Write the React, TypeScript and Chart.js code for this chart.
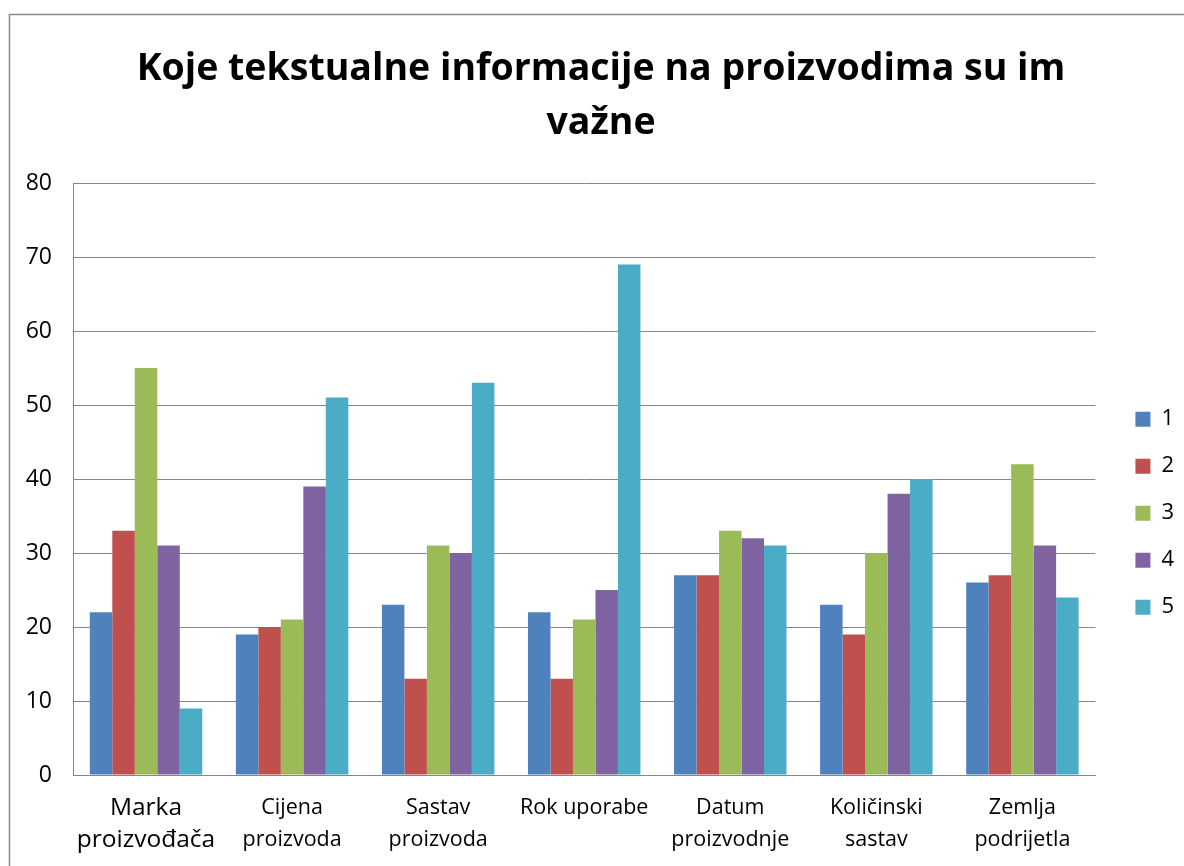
import React, { useEffect, useRef } from "react";
import { Chart, registerables } from "chart.js";

Chart.register(...registerables);

const categories: string[][] = [
  ["Marka", "proizvođača"],
  ["Cijena", "proizvoda"],
  ["Sastav", "proizvoda"],
  ["Rok uporabe"],
  ["Datum", "proizvodnje"],
  ["Količinski", "sastav"],
  ["Zemlja", "podrijetla"],
];

const seriesNames = ["1", "2", "3", "4", "5"];
const series1 = [22, 19, 23, 22, 27, 23, 26];
const series2 = [33, 20, 13, 13, 27, 19, 27];
const series3 = [55, 21, 31, 21, 33, 30, 42];
const series4 = [31, 39, 30, 25, 32, 38, 31];
const series5 = [9, 51, 53, 69, 31, 40, 24];
const seriesColors = ["#4F81BD", "#C0504D", "#9BBB59", "#8064A2", "#4BACC6"];

const titleLines = ["Koje tekstualne informacije na proizvodima su im", "važne"];
const yMin = 0;
const yMax = 80;
const yStep = 10;

const FONT = "'Open Sans', 'DejaVu Sans', sans-serif";

const framePlugin = {
  id: "frame",
  beforeDraw(chart: any) {
    const ctx = chart.ctx;
    ctx.save();
    ctx.fillStyle = "#ffffff";
    ctx.fillRect(0, 0, chart.width, chart.height);
    ctx.strokeStyle = "#8a8a8a";
    ctx.lineWidth = 1.5;
    ctx.beginPath();
    ctx.moveTo(9.5, chart.height);
    ctx.lineTo(9.5, 14.5);
    ctx.lineTo(chart.width, 14.5);
    ctx.stroke();
    ctx.restore();
  },
};

export default function App() {
  const ref = useRef<HTMLCanvasElement | null>(null);
  useEffect(() => {
    if (!ref.current) return;
    const allSeries = [series1, series2, series3, series4, series5];
    const chart = new Chart(ref.current, {
      type: "bar",
      data: {
        labels: categories,
        datasets: allSeries.map((d, i) => ({
          label: seriesNames[i],
          data: d,
          backgroundColor: seriesColors[i],
          borderWidth: 0,
          categoryPercentage: 0.77,
          barPercentage: 1,
          yAxisID: "y",
        })),
      },
      options: {
        responsive: false,
        animation: false,
        devicePixelRatio: 1,
        layout: { padding: { top: 0, left: 18, right: 0, bottom: 0 } },
        plugins: {
          title: {
            display: true,
            text: titleLines,
            color: "#000000",
            font: { family: FONT, size: 37.5, weight: "bold", lineHeight: 54 / 37.5 },
            padding: { top: 42, bottom: 33 },
          },
          legend: {
            position: "right",
            title: { display: true, text: " ", font: { size: 12, lineHeight: 1.2 }, padding: 73 },
            labels: {
              color: "#000000",
              boxWidth: 15,
              boxHeight: 15,
              padding: 25,
              font: { family: FONT, size: 22 },
            },
          },
          tooltip: { enabled: false },
        },
        scales: {
          x: {
            grid: { display: false, drawTicks: false },
            border: { display: true, color: "#868686", width: 1 },
            ticks: {
              color: "#000000",
              padding: 17,
              maxRotation: 0,
              autoSkip: false,
              font: (c: any) => ({
                family: FONT,
                size: c.index === 0 ? 24.5 : 21.5,
                lineHeight: "32px",
              }),
            },
            afterFit: (s: any) => {
              s.height = 91;
            },
          },
          y: {
            min: yMin,
            max: yMax,
            grid: { color: "#868686", drawTicks: false },
            border: { display: true, color: "#868686", width: 1 },
            ticks: {
              stepSize: yStep,
              color: "#000000",
              padding: 21,
              font: { family: FONT, size: 23 },
            },
            afterFit: (s: any) => {
              s.width = 55;
            },
          },
          gap: {
            position: "right",
            display: true,
            grid: { display: false, drawTicks: false },
            border: { display: false },
            ticks: { display: false },
            afterFit: (s: any) => {
              s.width = 15;
            },
          },
        },
      },
      plugins: [framePlugin],
    });
    return () => chart.destroy();
  }, []);
  return (
    <canvas
      ref={ref}
      width={1184}
      height={866}
      style={{ position: "fixed", left: 0, top: 0, width: 1184, height: 866 }}
    />
  );
}
